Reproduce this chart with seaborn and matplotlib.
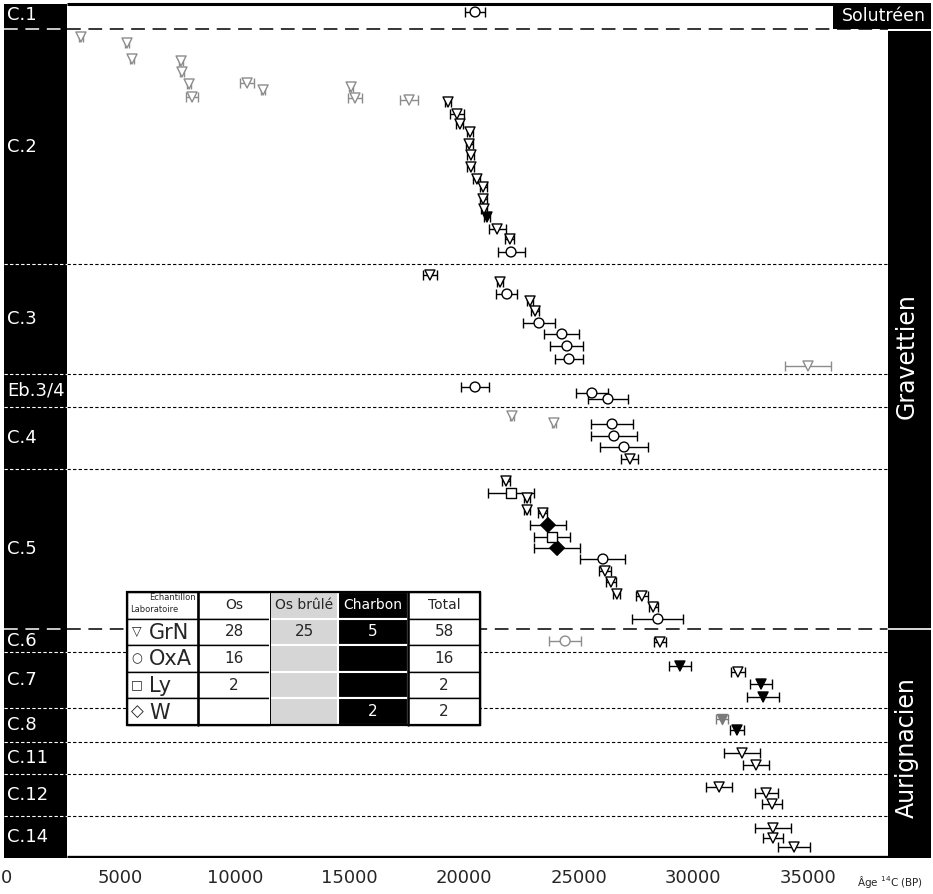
import numpy as np
import pandas as pd
import matplotlib
matplotlib.use('Agg')
import matplotlib.pyplot as plt
from matplotlib.patches import Rectangle
import seaborn as sns

# stratigraphy: names and limits on the vertical scale (0 = top of chart, 858 = bottom)
LAYER_NAMES = ['C.1', 'C.2', 'C.3', 'Eb.3/4', 'C.4', 'C.5', 'C.6', 'C.7', 'C.8', 'C.11', 'C.12', 'C.14']
LAYER_EDGES = [2, 29, 264, 374, 407, 469, 629, 652, 708, 742, 774, 816, 858]
CULTURE_EDGES = [29, 629]  # Solutréen / Gravettien / Aurignacien
CULTURES = ['Solutréen', 'Gravettien', 'Aurignacien']

# one entry per dated sample (age 14C BP, 1 sigma, vertical rank, lab, material)
AGE = [20470,
       3270, 5280, 5500, 7640, 7680, 7990, 8120, 10520, 11220, 15060, 15230, 17590,
       19290, 19680, 19810, 20250, 20210, 20290, 20290, 20550, 20820, 20820, 20860, 20990, 21430, 21990, 22040,
       18500, 21560, 21860, 22870, 23090, 23260, 24260, 24480, 24570, 35000,
       20470, 25570, 26270,
       22080, 23910, 26450, 26530, 26970, 27230,
       21820, 22040, 22740, 22740, 23430, 23650, 23830, 24050, 26050, 26140, 26400, 26660, 27750, 28240, 28450,
       24400, 28540,
       29410, 31940, 32950, 33040,
       31250, 31900,
       32120, 32730,
       31120, 33170, 33430,
       33470, 33470, 34390]
ERR = [440,
       80, 100, 100, 100, 100, 100, 250, 310, 90, 90, 300, 410,
       150, 310, 150, 150, 150, 150, 150, 150, 150, 150, 150, 150, 370, 200, 590,
       290, 130, 460, 130, 180, 700, 760, 720, 610, 1000,
       610, 700, 890,
       100, 100, 920, 1000, 1050, 370,
       160, 1000, 130, 130, 200, 800, 800, 1000, 980, 250, 200, 150, 250, 200, 1110,
       700, 250,
       480, 300, 480, 700,
       280, 300,
       800, 570,
       550, 500, 440,
       800, 440, 700]
RANK = [12,
        37, 43, 59, 61, 72, 84, 97, 83, 90, 87, 98, 100,
        102, 114, 124, 132, 144, 155, 167, 179, 187, 199, 209, 217, 229, 239, 252,
        275, 282, 294, 301, 311, 323, 334, 346, 359, 366,
        387, 393, 399,
        416, 423, 424, 436, 447, 459,
        481, 493, 498, 510, 513, 525, 537, 548, 559, 571, 582, 594, 596, 607, 619,
        641, 642,
        666, 672, 684, 697,
        719, 730,
        753, 765,
        787, 793, 804,
        828, 838, 847]
LAB = (['OxA'] + ['GrN'] * 26 + ['OxA']
       + ['GrN', 'GrN', 'OxA', 'GrN', 'GrN', 'OxA', 'OxA', 'OxA', 'OxA', 'GrN']
       + ['OxA'] * 3
       + ['GrN', 'GrN', 'OxA', 'OxA', 'OxA', 'GrN']
       + ['GrN', 'Ly', 'GrN', 'GrN', 'GrN', 'W', 'Ly', 'W', 'OxA', 'GrN', 'GrN', 'GrN', 'GrN', 'GrN', 'OxA']
       + ['OxA', 'GrN']
       + ['GrN'] * 14)
MATERIAL = (['os'] + ['brule'] * 12 + ['os'] * 11 + ['charbon'] + ['os'] * 3
            + ['os'] * 9 + ['brule']
            + ['os'] * 3
            + ['brule', 'brule', 'os', 'os', 'os', 'os']
            + ['os', 'os', 'os', 'os', 'os', 'charbon', 'os', 'charbon', 'os', 'os', 'os', 'os', 'os', 'os', 'os']
            + ['brule', 'os']
            + ['charbon', 'os', 'charbon', 'charbon']
            + ['brule_plein', 'charbon']
            + ['os'] * 8)

# summary table
TABLE_LABS = ['GrN', 'OxA', 'Ly', 'W']
TABLE_SYMBOLS = ['▽', '○', '□', '◇']
TABLE_COLUMNS = ['Os', 'Os brûlé', 'Charbon', 'Total']
N_OS = [28, 16, 2, None]
N_BRULE = [25, None, None, None]
N_CHARBON = [5, None, None, 2]

MARKERS = {'GrN': 'v', 'OxA': 'o', 'Ly': 's', 'W': 'D'}
SIZES = {'GrN': 52, 'OxA': 50, 'Ly': 50, 'W': 55}
STYLES = {'os': ('white', 'black'), 'brule': ('white', '#8c8c8c'),
          'charbon': ('black', 'black'), 'brule_plein': ('#7a7a7a', '#7a7a7a')}

# layout in pixels
W, H = 933, 894
AX_L, AX_R, Y_TOP, Y_BOT = 4, 931, 2, 858
X0_PX, PX_PER_YR = 6, 802 / 35000
LEFT_BAND, RIGHT_BAND, SOLU_LEFT = 2660, 38490, 36090

sns.set_style('white')
plt.rcParams['font.family'] = ['DejaVu Sans']

df = pd.DataFrame({'age': AGE, 'err': ERR, 'rang': RANK, 'lab': LAB, 'materiau': MATERIAL})

fig = plt.figure(figsize=(W / 100, H / 100), dpi=100)
ax = fig.add_axes([AX_L / W, 1 - Y_BOT / H, (AX_R - AX_L) / W, (Y_BOT - Y_TOP) / H])
xmin, xmax = (AX_L - X0_PX) / PX_PER_YR, (AX_R - X0_PX) / PX_PER_YR

for mat, sub in df.groupby('materiau'):
    face, edge = STYLES[mat]
    ax.errorbar(sub['age'], sub['rang'], xerr=sub['err'], fmt='none', ecolor=edge,
                elinewidth=1.0, capsize=3.5, capthick=1.0, zorder=2)
    sns.scatterplot(data=sub, x='age', y='rang', style='lab', markers=MARKERS, size='lab', sizes=SIZES,
                    color=face, edgecolor=edge, linewidth=1.0, legend=False, ax=ax, zorder=3)

ax.set_xlim(xmin, xmax)
ax.set_ylim(Y_BOT, Y_TOP)
ax.set_xlabel('')
ax.set_ylabel('')
ax.set_xticks(range(0, 35001, 5000))
ax.set_yticks([])
ax.tick_params(axis='x', length=0, pad=8, labelsize=13)
for s in ax.spines.values():
    s.set_visible(False)

# layer boundaries: black over the plot, white across the left band
for y in LAYER_EDGES[1:-1]:
    long = y in CULTURE_EDGES
    ls = (0, (9, 5)) if long else (0, (3, 2))
    lw = 1.1 if long else 0.8
    ax.plot([LEFT_BAND, RIGHT_BAND], [y, y], color='black', ls=ls, lw=lw, zorder=1)
    ax.plot([xmin, LEFT_BAND], [y, y], color='white', ls=ls, lw=lw, zorder=5)

ax.add_patch(Rectangle((xmin, 4), LEFT_BAND - xmin, Y_BOT - 4, color='black', lw=0, zorder=4))
ax.add_patch(Rectangle((RIGHT_BAND, 31), xmax - RIGHT_BAND, Y_BOT - 31, color='black', lw=0, zorder=4))
ax.add_patch(Rectangle((SOLU_LEFT, 3), xmax - SOLU_LEFT, 26, color='black', lw=0, zorder=4))
ax.plot([RIGHT_BAND, xmax], [CULTURE_EDGES[1]] * 2, color='white', lw=1.2, zorder=5)
ax.plot([LEFT_BAND, SOLU_LEFT], [3.5, 3.5], color='black', lw=2.2, solid_capstyle='butt', zorder=5)
ax.plot([LEFT_BAND, RIGHT_BAND], [857, 857], color='black', lw=2.4, solid_capstyle='butt', zorder=5)

for name, top, bot in zip(LAYER_NAMES, LAYER_EDGES[:-1], LAYER_EDGES[1:]):
    ax.text(44, (top + bot) / 2, name, color='white', fontsize=13, ha='left', va='center', zorder=6)

ax.text((SOLU_LEFT + xmax) / 2 + 100, 16, CULTURES[0], color='white', fontsize=12.5,
        ha='center', va='center', zorder=6)
ax.text(39320, 356, CULTURES[1], color='white', fontsize=17, rotation=90, ha='center', va='center', zorder=6)
ax.text(39320, 748, CULTURES[2], color='white', fontsize=17, rotation=90, ha='center', va='center', zorder=6)

fig.text(857 / W, 1 - 882 / H, 'Âge $^{14}$C (BP)', fontsize=7.5, va='center')


# table of samples per lab and material
def px2ax(xp, yp):
    return (xp - AX_L) / (AX_R - AX_L), (Y_BOT - yp) / (Y_BOT - Y_TOP)


def fmt(v):
    return '' if v is None else str(v)


totals = [sum(v for v in vals if v is not None) for vals in zip(N_OS, N_BRULE, N_CHARBON)]
cells = [[''] + TABLE_COLUMNS]
for i in range(len(TABLE_LABS)):
    cells.append(['', fmt(N_OS[i]), fmt(N_BRULE[i]), fmt(N_CHARBON[i]), str(totals[i])])

col_px = [127, 198, 270, 338, 408, 480]
row_top, row_bot = 592, 725
x0, y0 = px2ax(col_px[0], row_bot)
x1, y1 = px2ax(col_px[-1], row_top)
tab = ax.table(cellText=cells, colWidths=list(np.diff(col_px)), cellLoc='center',
               bbox=[x0, y0, x1 - x0, y1 - y0])
tab.auto_set_font_size(False)
tab.set_fontsize(11)
tab.set_zorder(10)
for (r, c), cell in tab.get_celld().items():
    if r == 0:
        cell.get_text().set_fontsize(10)
    if c == 2:
        cell.set_facecolor('#d6d6d6')
        cell.set_edgecolor('white')
        cell.set_linewidth(1.5)
    elif c == 3:
        cell.set_facecolor('black')
        cell.set_edgecolor('white')
        cell.set_linewidth(1.5)
        cell.get_text().set_color('white')
    else:
        cell.set_facecolor('white')
        cell.set_edgecolor('black')
        cell.set_linewidth(1.0)

ax.add_patch(Rectangle((x0, y0), x1 - x0, y1 - y0, transform=ax.transAxes, fill=False,
                       ec='black', lw=1.6, zorder=11, clip_on=False))
for xp, lw in [(198, 1.8), (270, 0.7), (408, 1.8)]:
    xa, _ = px2ax(xp, 0)
    ax.plot([xa, xa], [y0, y1], transform=ax.transAxes, color='black', lw=lw, zorder=11, clip_on=False)

row_h = (row_bot - row_top) / 5
for i, (sym, lab) in enumerate(zip(TABLE_SYMBOLS, TABLE_LABS)):
    yc = row_top + row_h * (i + 1.5)
    ax.text(*px2ax(137, yc), sym, transform=ax.transAxes, fontsize=12 if sym == '◇' else 9,
            ha='center', va='center', zorder=12)
    ax.text(*px2ax(149, yc + 1), lab, transform=ax.transAxes, fontsize=15,
            ha='left', va='center', zorder=12)
ax.text(*px2ax(196, 598), 'Echantillon', transform=ax.transAxes, fontsize=6, ha='right', va='center', zorder=12)
ax.text(*px2ax(130, 610), 'Laboratoire', transform=ax.transAxes, fontsize=6, ha='left', va='center', zorder=12)

fig.savefig('out.png', dpi=100)
